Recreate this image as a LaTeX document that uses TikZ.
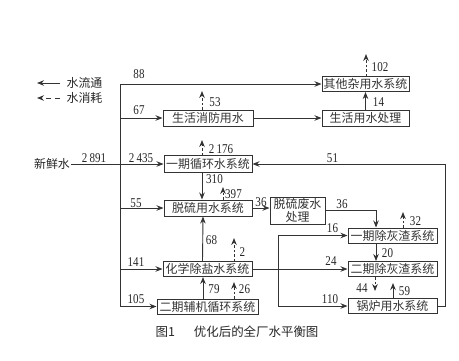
\documentclass[tikz,border=0pt]{standalone}
\usepackage{fontspec}
\setmainfont{Liberation Serif}
\newfontfamily\cjk{Noto Sans CJK SC}
\newfontfamily\numf[FakeStretch=0.82]{Liberation Serif}
\usetikzlibrary{arrows.meta}
\begin{document}
\begin{tikzpicture}[x=1bp,y=-1bp,
 box/.style={draw=black!80, line width=1bp, inner sep=0pt, minimum height=15bp,
   font=\cjk\fontsize{12}{13.5}\selectfont, text=black!80},
 flow/.style={draw=black!80, line width=0.9bp},
 arr/.style={flow, -{Stealth[length=7bp,width=5.5bp]}},
 loss/.style={arr, dash pattern=on 2.5bp off 2bp},
 num/.style={font=\numf\fontsize{13.5}{13.5}\selectfont, inner sep=0pt, text=black!85},
 lbl/.style={font=\cjk\fontsize{12}{12}\selectfont, inner sep=0pt, text=black!85}]
\useasboundingbox (0,0) rectangle (459,360);

% boxes
\node[box, minimum width=87bp] (qita) at (365.5,84) {其他杂用水系统};
\node[box, minimum width=90bp, minimum height=16bp] (shxf) at (208,118) {生活消防用水};
\node[box, minimum width=87bp, minimum height=16bp] (shcl) at (365.5,118) {生活用水处理};
\node[box, minimum width=88bp, minimum height=17bp] (yqxh) at (208,164) {一期循环水系统};
\node[box, minimum width=88bp, minimum height=16bp] (tl) at (208,208) {脱硫用水系统};
\node[box, minimum width=55bp, minimum height=27bp, align=center] (tlfs) at (297.5,210.5) {脱硫废水\\处理};
\node[box, minimum width=89bp] (yqhz) at (392.5,235.5) {一期除灰渣系统};
\node[box, minimum width=89bp] (eqhz) at (392.5,269) {二期除灰渣系统};
\node[box, minimum width=89bp] (gl) at (392.5,306) {锅炉用水系统};
\node[box, minimum width=89bp] (hx) at (207.5,269) {化学除盐水系统};
\node[box, minimum width=101bp] (eqfj) at (207.5,306.5) {二期辅机循环系统};
\node[lbl, inner sep=1bp] (xxs) at (52,164) {新鲜水};

% legend
\coordinate (lga) at (60,83);
\coordinate (lgb) at (37,83);
\coordinate (lgc) at (60,98);
\coordinate (lgd) at (37,98);
\draw[arr] (lga) -- (lgb);
\draw[arr, dash pattern=on 5bp off 4bp] (lgc) -- (lgd);
\node[lbl] (lgt1) at (84.5,83) {水流通};
\node[lbl] (lgt2) at (84.5,98) {水消耗};

% main distribution line
\coordinate (jtop) at (120,84);
\coordinate (jbot) at (120,306.5);
\draw[flow] (jtop) -- (jbot);
\draw[arr] (jtop) -- (qita.west);
\draw[arr] (jtop |- shxf.west) -- (shxf.west);
\draw[arr] (xxs.east) -- (yqxh.west);
\draw[arr] (jtop |- tl.west) -- (tl.west);
\draw[arr] (jtop |- hx.west) -- (hx.west);
\draw[arr] (jbot) -- (eqfj.west);

% horizontal links
\draw[arr] (shxf) -- (shcl);
\draw[arr] (shcl) -- (qita);
\draw[arr] (tl.east) -- (tlfs.west |- tl.east);
\draw[arr] (tlfs.east |- 0,210) -| ([xshift=-16.5bp]yqhz.north);
\draw[arr] (hx) -- (eqhz);
\draw[arr] ([xshift=-16.5bp]yqhz.south) -- ([xshift=-16.5bp]eqhz.north);

% loop left (16 / 110)
\coordinate (lj1) at (278,235.5);
\coordinate (lj2) at (278,306);
\draw[flow] (lj1) -- (lj2);
\draw[arr] (lj1) -- (yqhz.west);
\draw[arr] (lj2) -- (gl.west);

% loop right (51)
\coordinate (rj) at (445,164);
\draw[arr] (gl.east) -- (rj |- gl.east) -- (rj) -- (yqxh.east);

% vertical flows
\draw[arr] ([xshift=-6bp]yqxh.south) -- ([xshift=-6bp]tl.north);
\draw[arr] ([xshift=-5bp]hx.north) -- ([xshift=-5bp]tl.south);
\draw[arr] ([xshift=-4.5bp]eqfj.north) -- ([xshift=-4.5bp]hx.south);
\coordinate (e59) at (393,283);
\draw[arr] (gl.north -| e59) -- (e59);

% losses
\coordinate (e102) at (366,54);
\coordinate (e53) at (202,91);
\coordinate (e2176) at (202,140);
\coordinate (e397) at (223,187);
\coordinate (e2) at (234,238);
\coordinate (e26) at (234,282);
\coordinate (e32) at (403,212);
\coordinate (e44) at (375,291);
\draw[loss] (qita.north -| e102) -- (e102);
\draw[loss] (shxf.north -| e53) -- (e53);
\draw[loss] (yqxh.north -| e2176) -- (e2176);
\draw[loss] (tl.north -| e397) -- (e397);
\draw[loss] (hx.north -| e2) -- (e2);
\draw[loss] (eqfj.north -| e26) -- (e26);
\draw[loss] (yqhz.north -| e32) -- (e32);
\draw[loss] (eqhz.south -| e44) -- (e44);

% numbers
\node[num] (n88) at (139,74.5) {88};
\node[num] (n67) at (139,110.5) {67};
\node[num] (n2891) at (94,158) {2\,891};
\node[num] (n2435) at (141,158) {2\,435};
\node[num] (n53) at (215,102.5) {53};
\node[num] (n102) at (380,67.5) {102};
\node[num] (n14) at (378.5,102) {14};
\node[num] (n2176) at (221,149) {2\,176};
\node[num] (n310) at (214.5,179) {310};
\node[num] (n397) at (233.5,194) {397};
\node[num] (n51) at (332.5,158.5) {51};
\node[num] (n55) at (136,203) {55};
\node[num] (n36a) at (261,202) {36};
\node[num] (n36b) at (342,204.5) {36};
\node[num] (n68) at (211.5,240.5) {68};
\node[num] (n2) at (242.5,252) {2};
\node[num] (n141) at (136,262) {141};
\node[num] (n79) at (214,289) {79};
\node[num] (n26) at (244.5,289) {26};
\node[num] (n105) at (136,299) {105};
\node[num] (n32) at (415.5,221) {32};
\node[num] (n16) at (332.5,228.5) {16};
\node[num] (n20) at (387.5,253) {20};
\node[num] (n24) at (331,261.5) {24};
\node[num] (n44) at (362,288) {44};
\node[num] (n59) at (404.5,291.5) {59};
\node[num] (n110) at (330,299.5) {110};

% caption
\node[font=\cjk\fontsize{12.5}{12.5}\selectfont, inner sep=0pt, text=black!85] (cap) at (237,332) {图1\hspace{19bp}优化后的全厂水平衡图};
\end{tikzpicture}
\end{document}
